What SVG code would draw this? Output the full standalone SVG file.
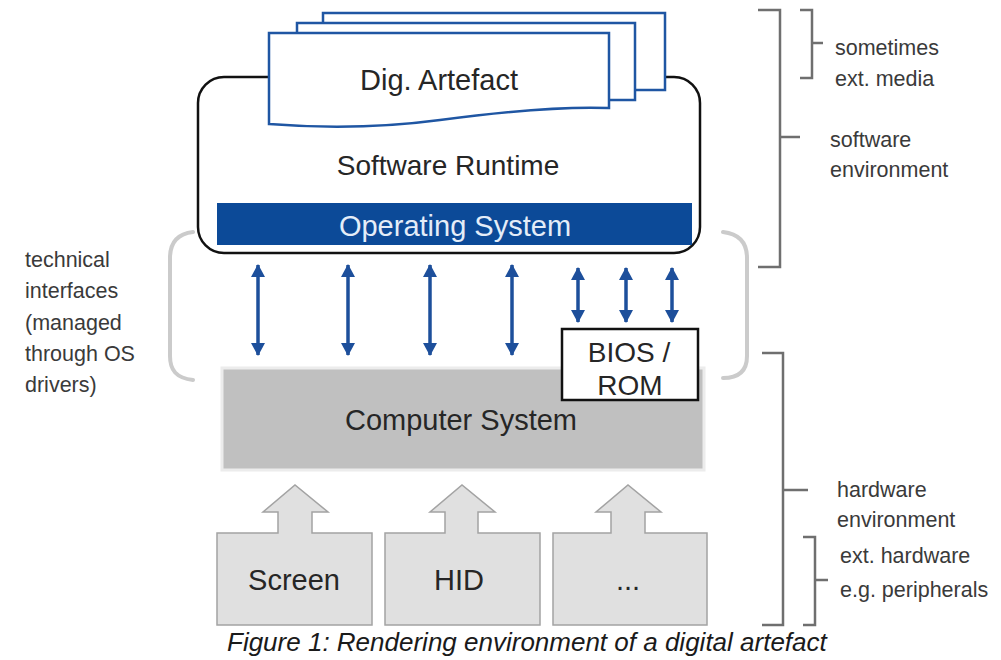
<svg xmlns="http://www.w3.org/2000/svg" width="1001" height="660" viewBox="0 0 1001 660">
<defs>
<style>
.t{font-family:"Liberation Sans",Arial,sans-serif;fill:#262626}
.lbl{font-size:28px;text-anchor:middle}
.side{font-size:21.5px;fill:#3a3a3a}
.page{fill:#fff;stroke:#1f56a3;stroke-width:2.5}
.ia{stroke:#1d4f9b;stroke-width:3.5;fill:none;marker-start:url(#ah);marker-end:url(#ah)}
.br{fill:none;stroke:#6f6f6f;stroke-width:2.5}
.gb{fill:none;stroke:#cbcbcb;stroke-width:4;stroke-linecap:round}
.per{fill:#e0e0e0;stroke:#a3a3a3;stroke-width:1.5}
</style>
<marker id="ah" markerUnits="userSpaceOnUse" markerWidth="14" markerHeight="14" refX="12" refY="7" orient="auto-start-reverse">
<path d="M0,0 L13,7 L0,14 Z" fill="#1d4f9b"/>
</marker>
</defs>
<rect width="1001" height="660" fill="#fff"/>

<g id="interfaces-bracket">
<path class="gb" d="M193,232 C176,234 170,244 170,258 V356 C170,370 176,378 193,380"/>
<path class="gb" d="M723,232 C740,234 747,244 747,258 V356 C747,370 740,378 723,378"/>
</g>

<g id="software-runtime">
<rect x="198" y="77" width="502" height="176" rx="26" fill="#fff" stroke="#111" stroke-width="2.5"/>
<text class="t lbl" x="448" y="175">Software Runtime</text>
</g>

<g id="operating-system">
<rect x="217" y="203" width="475" height="42" fill="#0c4a98"/>
<text class="t lbl" x="455" y="236" style="fill:#e4edf8;font-size:29px">Operating System</text>
</g>

<g id="dig-artefact">
<rect class="page" x="323" y="13" width="342" height="77"/>
<rect class="page" x="297" y="23" width="338" height="77"/>
<path class="page" d="M269,33 H609 V108 C560,106 500,112 440,120 C380,128 320,128 269,124 Z"/>
<text class="t lbl" x="439" y="90" style="font-size:29px">Dig. Artefact</text>
</g>

<g id="connectors">
<line class="ia" x1="258" y1="265" x2="258" y2="355"/>
<line class="ia" x1="348" y1="265" x2="348" y2="355"/>
<line class="ia" x1="430" y1="265" x2="430" y2="355"/>
<line class="ia" x1="512" y1="265" x2="512" y2="355"/>
<line class="ia" x1="578" y1="268" x2="578" y2="322"/>
<line class="ia" x1="626" y1="268" x2="626" y2="322"/>
<line class="ia" x1="672" y1="268" x2="672" y2="322"/>
</g>

<g id="computer-system">
<rect x="222" y="368" width="482" height="102" fill="#c0c0c0" stroke="#ececec" stroke-width="3"/>
<text class="t lbl" x="461" y="430" style="font-size:29px">Computer System</text>
</g>

<g id="bios-rom">
<rect x="562" y="329" width="136" height="71" fill="#fff" stroke="#111" stroke-width="2.5"/>
<text class="t lbl" x="629" y="362">BIOS /</text>
<text class="t lbl" x="630" y="395">ROM</text>
</g>

<g id="screen">
<path class="per" d="M217,533 H278 V512 H263 L295,485 L328,512 H312 V533 H372 V625 H217 Z"/>
<text class="t lbl" x="294" y="590" style="font-size:29px">Screen</text>
</g>
<g id="hid">
<path class="per" d="M385,533 H445 V512 H430 L462,485 L495,512 H478 V533 H540 V625 H385 Z"/>
<text class="t lbl" x="459" y="590" style="font-size:29px">HID</text>
</g>
<g id="more">
<path class="per" d="M553,533 H611 V512 H596 L628,485 L661,512 H645 V533 H707 V625 H553 Z"/>
<text class="t lbl" x="628" y="590" style="font-size:29px">...</text>
</g>

<g id="left-label">
<text class="t side" x="25" y="267">technical</text>
<text class="t side" x="25" y="298">interfaces</text>
<text class="t side" x="25" y="330">(managed</text>
<text class="t side" x="25" y="361">through OS</text>
<text class="t side" x="25" y="392">drivers)</text>
</g>

<g id="software-environment">
<path class="br" d="M758,10 H780 V267 H758 M780,137 H800"/>
<text class="t side" x="830" y="147">software</text>
<text class="t side" x="830" y="177">environment</text>
</g>
<g id="ext-media">
<path class="br" d="M800,10 H812 V78 H800 M812,43 H823"/>
<text class="t side" x="835" y="55">sometimes</text>
<text class="t side" x="835" y="86">ext. media</text>
</g>
<g id="hardware-environment">
<path class="br" d="M762,353 H783 V625 H762 M783,490 H808"/>
<text class="t side" x="837" y="497">hardware</text>
<text class="t side" x="837" y="527">environment</text>
</g>
<g id="ext-hardware">
<path class="br" d="M803,537 H815 V625 H803 M815,580 H828"/>
<text class="t side" x="840" y="563">ext. hardware</text>
<text class="t side" x="840" y="597">e.g. peripherals</text>
</g>

<text class="t" x="227" y="651" style="font-size:26px;font-style:italic;fill:#1a1a1a">Figure 1: Rendering environment of a digital artefact</text>
</svg>
